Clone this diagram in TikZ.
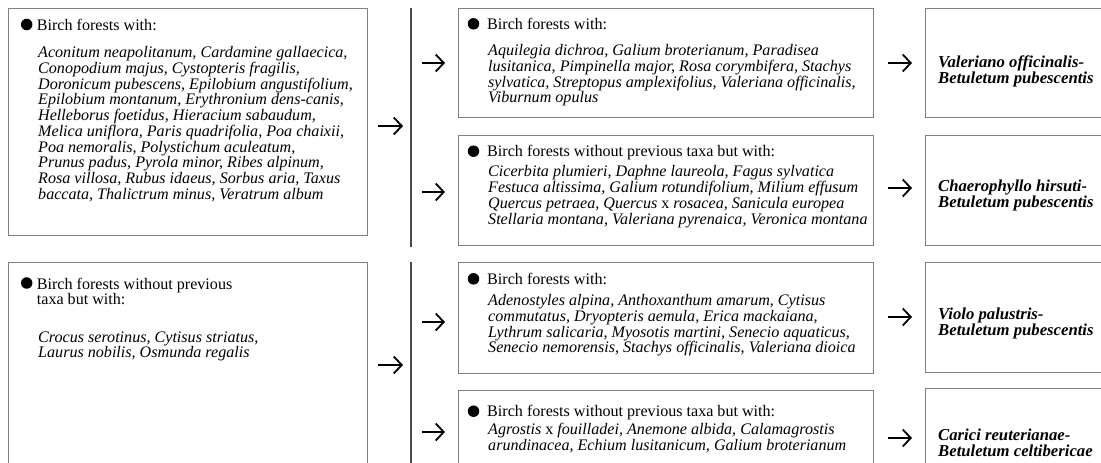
\documentclass[tikz,border=0pt]{standalone}
\usepackage{fontspec}
\setmainfont{Liberation Serif}
\usetikzlibrary{arrows.meta}
\definecolor{boxgray}{HTML}{808080}
\definecolor{bargray}{HTML}{4A4A4A}
\tikzset{
  box/.style={draw=boxgray, line width=1pt, anchor=north west, inner sep=0pt, outer sep=0pt},
  head/.style={anchor=base west, inner sep=0pt, font=\fontsize{16.1}{15.7}\selectfont},
  headml/.style={anchor=north west, inner sep=0pt, align=left, font=\fontsize{16.1}{#1}\selectfont},
  taxa/.style={anchor=north west, inner sep=0pt, align=left, font=\fontsize{16.1}{#1}\selectfont\itshape},
  assoc/.style={anchor=north west, inner sep=0pt, align=left, font=\fontsize{16.7}{16}\selectfont\bfseries\itshape},
  dot/.style={circle, fill=black, inner sep=0pt, minimum size=11.5pt},
  arr/.style={line width=1.8pt, -{Straight Barb[length=8pt,width=17pt,line width=1.8pt]}},
  bar/.style={draw=bargray, line width=1.5pt}
}
\newcommand{\st}{\rule{0pt}{12pt}}
\begin{document}
\begin{tikzpicture}[x=1pt,y=1pt]
\path[use as bounding box, clip] (0,0) rectangle (1101,-463);
% left boxes
\node[box, minimum width=359pt, minimum height=227pt] (L1) at (8,-8) {};
\node[box, minimum width=359pt, minimum height=240pt] (L2) at (8,-262) {};
% middle boxes
\node[box, minimum width=415pt, minimum height=109pt] (M1) at (458,-8) {};
\node[box, minimum width=415pt, minimum height=110pt] (M2) at (458,-135) {};
\node[box, minimum width=415pt, minimum height=111pt] (M3) at (458,-262) {};
\node[box, minimum width=415pt, minimum height=110pt] (M4) at (458,-390) {};
% right boxes
\node[box, minimum width=200pt, minimum height=109pt] (R1) at (925,-8) {};
\node[box, minimum width=200pt, minimum height=110pt] (R2) at (925,-135) {};
\node[box, minimum width=200pt, minimum height=110pt] (R3) at (925,-262) {};
\node[box, minimum width=200pt, minimum height=110pt] (R4) at (925,-388) {};

% L1 text
\node[dot] (L1d) at (26.7,-24.5) {};
\node[head] (L1h) at (36.7,-30.5) {Birch forests with:};
\node[taxa=15.73] (L1t) at (38,-45.5) {\st Aconitum neapolitanum, Cardamine gallaecica,\\
Conopodium majus, Cystopteris fragilis,\\
Doronicum pubescens, Epilobium angustifolium,\\
Epilobium montanum, Erythronium dens-canis,\\
Helleborus foetidus, Hieracium sabaudum,\\
Melica uniflora, Paris quadrifolia, Poa chaixii,\\
Poa nemoralis, Polystichum aculeatum,\\
Prunus padus, Pyrola minor, Ribes alpinum,\\
Rosa villosa, Rubus idaeus, Sorbus aria, Taxus\\
baccata, Thalictrum minus, Veratrum album};

% L2 text
\node[dot] (L2d) at (26.7,-283) {};
\node[headml=15] (L2h) at (36.7,-277) {\st Birch forests without previous\\ taxa but with:};
\node[taxa=15] (L2t) at (38,-330.7) {\st Crocus serotinus, Cytisus striatus,\\
Laurus nobilis, Osmunda regalis};

% M1 text
\node[dot] (M1d) at (473.5,-23.8) {};
\node[head] (M1h) at (487,-29.3) {Birch forests with:};
\node[taxa=15.9] (M1t) at (488,-43) {\st Aquilegia dichroa, Galium broterianum, Paradisea\\
lusitanica, Pimpinella major, Rosa corymbifera, Stachys\\
sylvatica, Streptopus amplexifolius, Valeriana officinalis,\\
Viburnum opulus};

% M2 text
\node[dot] (M2d) at (473.5,-151.2) {};
\node[head] (M2h) at (487,-156.7) {Birch forests without previous taxa but with:};
\node[taxa=15.9] (M2t) at (488,-164.7) {\st Cicerbita plumieri, Daphne laureola, Fagus sylvatica\\
Festuca altissima, Galium rotundifolium, Milium effusum\\
Quercus petraea, Quercus \textup{x} rosacea, Sanicula europea\\
Stellaria montana, Valeriana pyrenaica, Veronica montana};

% M3 text
\node[dot] (M3d) at (473.5,-278.8) {};
\node[head] (M3h) at (487,-284.3) {Birch forests with:};
\node[taxa=15.9] (M3t) at (488,-293) {\st Adenostyles alpina, Anthoxanthum amarum, Cytisus\\
commutatus, Dryopteris aemula, Erica mackaiana,\\
Lythrum salicaria, Myosotis martini, Senecio aquaticus,\\
Senecio nemorensis, Stachys officinalis, Valeriana dioica};

% M4 text
\node[dot] (M4d) at (473.5,-411.2) {};
\node[head] (M4h) at (487,-416.7) {Birch forests without previous taxa but with:};
\node[taxa=15.7] (M4t) at (488,-422.3) {\st Agrostis \textup{x} fouilladei, Anemone albida, Calamagrostis\\
arundinacea, Echium lusitanicum, Galium broterianum};

% right texts
\node[assoc] (R1t) at (938,-55.3) {\st Valeriano officinalis-\\ Betuletum pubescentis};
\node[assoc] (R2t) at (938,-179.7) {\st Chaerophyllo hirsuti-\\ Betuletum pubescentis};
\node[assoc] (R3t) at (938,-307) {\st Violo palustris-\\ Betuletum pubescentis};
\node[assoc] (R4t) at (938,-428.7) {\st Carici reuterianae-\\ Betuletum celtibericae};

% bracket bars
\coordinate (b1t) at (411,-8);
\coordinate (b1b) at (411,-247);
\coordinate (b2t) at (411,-262);
\coordinate (b2b) at (411,-470);
\draw[bar] (b1t) -- (b1b);
\draw[bar] (b2t) -- (b2b);

% arrows
\coordinate (a1s) at (378,-126); \coordinate (a1e) at (403,-126);
\coordinate (a2s) at (378,-365); \coordinate (a2e) at (403,-365);
\coordinate (m1s) at (422,-63);  \coordinate (m1e) at (445,-63);
\coordinate (m2s) at (422,-192); \coordinate (m2e) at (445,-192);
\coordinate (m3s) at (422,-322); \coordinate (m3e) at (445,-322);
\coordinate (m4s) at (422,-432); \coordinate (m4e) at (445,-432);
\coordinate (r1s) at (888,-63);  \coordinate (r1e) at (912,-63);
\coordinate (r2s) at (888,-188); \coordinate (r2e) at (912,-188);
\coordinate (r3s) at (888,-317); \coordinate (r3e) at (912,-317);
\coordinate (r4s) at (888,-438); \coordinate (r4e) at (912,-438);
\foreach \a in {a1,a2,m1,m2,m3,m4,r1,r2,r3,r4}{
  \draw[arr] (\a s) -- (\a e);
}
\end{tikzpicture}
\end{document}
